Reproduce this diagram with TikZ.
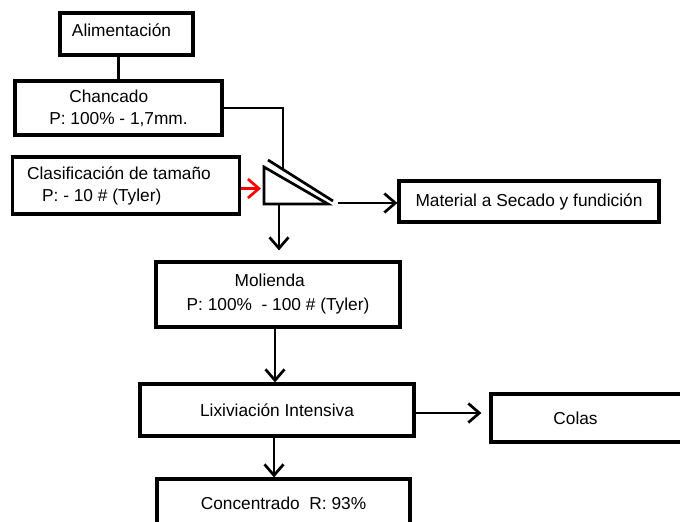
\documentclass[tikz,border=0pt]{standalone}
\usepackage{fontspec}
\setmainfont{Liberation Sans}
\usetikzlibrary{arrows.meta,positioning,calc}

\begin{document}
\begin{tikzpicture}[x=1pt,y=-1pt,
    font=\fontsize{17.3}{22}\selectfont,
    box/.style={rectangle,draw,line width=3.2pt,align=left,inner sep=0pt},
    link/.style={line width=2.7pt},
    flow/.style={line width=2.7pt,-{Straight Barb[length=11pt,width=19pt]}}]
    \clip (0,0) rectangle (680,522);
    \fill[white] (0,0) rectangle (680,522);

    % Feed and crushing
    \node[box,minimum width=133pt,minimum height=42pt,text depth=8pt] (alim) at (126.5,34) {Alimentación\hspace*{10pt}};
    \node[box,minimum width=207pt,minimum height=54pt] (chan) at (118.5,108) {\hspace*{20pt}Chancado\\P: 100\% - 1,7mm.};
    \draw[link] (chan.north) -- (chan.north |- alim.south);

    % Size classification
    \node[box,minimum width=227pt,minimum height=57pt] (clas) at (126,185.5) {Clasificación de tamaño\hspace*{14pt}\\\hspace*{15pt}P: - 10 \# (Tyler)};

    % Screen
    \coordinate (tA) at (264,167);
    \coordinate (tB) at (264,204);
    \coordinate (tC) at (328,204);
    \draw[link] (tA) -- (tB) -- (tC) -- cycle;
    \draw[link] (268,160) -- (333,201);
    \coordinate (scrin) at (283,169.4);
    \coordinate (scrdown) at (279,204);
    \coordinate (scrout) at (338,203);
    \draw[link] (chan.east) -| (scrin);
    \draw[flow,red,shorten >=3pt] ([yshift=-3pt]clas.east) -- ([yshift=-3pt]clas.east -| tA);

    % Screen products
    \node[box,minimum width=260pt,minimum height=41pt] (mat) at (529,201.5) {Material a Secado y fundición};
    \draw[flow] (scrout) -- (scrout -| mat.west);

    \node[box,minimum width=244pt,minimum height=65pt,font=\fontsize{17.3}{24}\selectfont] (mol) at (278,294.5) {\hspace*{48pt}Molienda\\P: 100\%\ \ - 100 \# (Tyler)};
    \draw[flow,shorten >=10pt] (scrdown) -- (scrdown |- mol.north);

    % Leaching
    \node[box,minimum width=274pt,minimum height=52pt] (lix) at (277,410) {Lixiviación Intensiva};
    \draw[flow] ([xshift=-3pt]mol.south) -- ([xshift=-3pt]mol.south |- lix.north);

    \node[box,minimum width=199pt,minimum height=48pt] (colas) at (590.5,418) {Colas\hspace*{30pt}};
    \draw[flow,shorten >=8pt] ([yshift=-3pt]lix.east) -- ([yshift=-3pt]lix.east -| colas.west);

    \node[box,minimum width=253pt,minimum height=48pt] (conc) at (283.5,503) {Concentrado\ \ R: 93\%};
    \draw[flow] ([xshift=-3pt]lix.south) -- ([xshift=-3pt]lix.south |- conc.north);
\end{tikzpicture}
\end{document}
